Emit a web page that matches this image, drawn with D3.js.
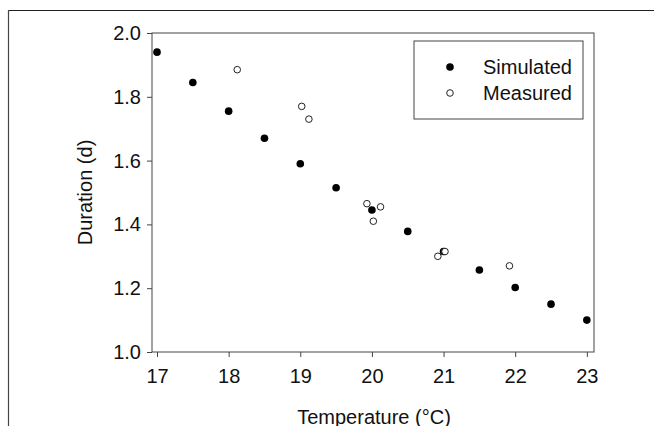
<!DOCTYPE html>
<html>
<head>
<meta charset="utf-8">
<script src="https://cdn.jsdelivr.net/npm/d3@7"></script>
<style>
body { margin: 0; background: #fff; }
text { font-family: "Liberation Sans", Arial, sans-serif; fill: #111; }
</style>
</head>
<body>
<script>
// data
var simTemp = [17, 17.5, 18, 18.5, 19, 19.5, 20, 20.5, 21, 21.5, 22, 22.5, 23];
var simDur = [1.94, 1.845, 1.755, 1.67, 1.59, 1.515, 1.445, 1.378, 1.315, 1.257, 1.202, 1.15, 1.10];
var measTemp = [18.12, 19.02, 19.12, 19.93, 20.02, 20.12, 20.92, 21.02, 21.92];
var measDur = [1.885, 1.77, 1.73, 1.465, 1.41, 1.455, 1.30, 1.315, 1.27];
var xTicks = [17, 18, 19, 20, 21, 22, 23];
var yTicks = [1.0, 1.2, 1.4, 1.6, 1.8, 2.0];

var w = 654, h = 426;
var pLeft = 152, pRight = 594, pTop = 33, pBottom = 352;

var svg = d3.select("body").append("svg").attr("width", w).attr("height", h);

// page border lines
svg.append("line").attr("x1", 8).attr("x2", w).attr("y1", 10.5).attr("y2", 10.5).attr("stroke", "#222").attr("stroke-width", 1.2);
svg.append("line").attr("x1", 8.5).attr("x2", 8.5).attr("y1", 10).attr("y2", h).attr("stroke", "#444").attr("stroke-width", 1.2);

var xScale = d3.scaleLinear().domain([16.93, 23.1]).range([pLeft, pRight]);
var yScale = d3.scaleLinear().domain([1.0, 2.0]).range([pBottom, pTop]);

svg.append("rect").attr("x", pLeft).attr("y", pTop).attr("width", pRight - pLeft).attr("height", pBottom - pTop)
   .attr("fill", "none").attr("stroke", "#444").attr("stroke-width", 1);

var xAxis = d3.axisBottom(xScale).tickValues(xTicks).tickSize(5).tickFormat(d3.format("d"));
var yAxis = d3.axisLeft(yScale).tickValues(yTicks).tickSize(5).tickFormat(d3.format(".1f"));

var gx = svg.append("g").attr("transform", "translate(0," + pBottom + ")").call(xAxis);
var gy = svg.append("g").attr("transform", "translate(" + pLeft + ",0)").call(yAxis);
[gx, gy].forEach(function(g){
  g.select(".domain").remove();
  g.selectAll("line").attr("stroke", "#444");
  g.selectAll("text").attr("font-size", "20px").style("fill", "#111");
});
gx.selectAll("text").attr("y", 17).attr("dy", "0.71em");
gy.selectAll("text").attr("dx", "-0.15em");

svg.append("text").attr("x", 374).attr("y", 424).attr("text-anchor", "middle")
   .attr("font-size", "20px").text("Temperature (°C)");
svg.append("text").attr("transform", "translate(92," + ((pTop + pBottom) / 2) + ") rotate(-90)")
   .attr("text-anchor", "middle").attr("font-size", "20px").text("Duration (d)");

// points
svg.selectAll("circle.sim").data(simTemp).enter().append("circle").attr("class", "sim")
   .attr("cx", function(d){ return xScale(d); })
   .attr("cy", function(d, i){ return yScale(simDur[i]); })
   .attr("r", 3.8).attr("fill", "#000");

svg.selectAll("circle.meas").data(measTemp).enter().append("circle").attr("class", "meas")
   .attr("cx", function(d){ return xScale(d); })
   .attr("cy", function(d, i){ return yScale(measDur[i]); })
   .attr("r", 3.3).attr("fill", "#fff").attr("stroke", "#222").attr("stroke-width", 1);

// legend
var lg = svg.append("g");
lg.append("rect").attr("x", 414).attr("y", 41).attr("width", 169).attr("height", 78)
  .attr("fill", "#fff").attr("stroke", "#444");
lg.append("circle").attr("cx", 450).attr("cy", 67).attr("r", 3.8).attr("fill", "#000");
lg.append("circle").attr("cx", 450).attr("cy", 93).attr("r", 3.3).attr("fill", "#fff").attr("stroke", "#222");
lg.append("text").attr("x", 483).attr("y", 74).attr("font-size", "20px").text("Simulated");
lg.append("text").attr("x", 483).attr("y", 100).attr("font-size", "20px").text("Measured");
</script>
</body>
</html>
